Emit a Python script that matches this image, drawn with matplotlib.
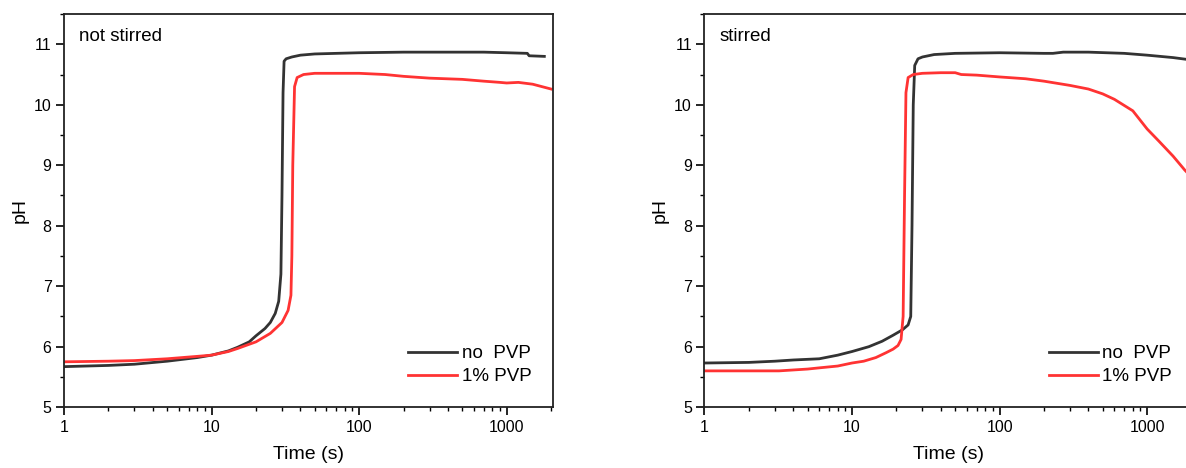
import matplotlib
matplotlib.use("Agg")
import matplotlib.pyplot as plt
from matplotlib.ticker import LogLocator, NullFormatter, MultipleLocator

plt.rcParams['font.family'] = ['Liberation Sans', 'DejaVu Sans']

# not stirred
t_ns_nopvp = [1, 2, 3, 5, 8, 10, 13, 15, 18, 20, 23, 25, 27, 28.5, 29.5, 30, 30.5, 31, 32,
              35, 40, 50, 70, 100, 200, 400, 700, 1000, 1380, 1420, 1800]
ph_ns_nopvp = [5.67, 5.69, 5.71, 5.76, 5.82, 5.86, 5.93, 5.99, 6.08, 6.18, 6.30, 6.40, 6.55,
               6.75, 7.2, 8.5, 10.2, 10.72, 10.76, 10.79, 10.82, 10.84, 10.85, 10.86, 10.87,
               10.87, 10.87, 10.86, 10.85, 10.81, 10.80]
t_ns_pvp = [1, 2, 3, 5, 8, 10, 13, 15, 18, 20, 25, 30, 33, 34.5, 35, 35.5, 36.5, 38, 42, 50,
            70, 100, 150, 200, 300, 500, 700, 900, 1000, 1200, 1500, 2000]
ph_ns_pvp = [5.75, 5.76, 5.77, 5.80, 5.84, 5.86, 5.92, 5.97, 6.04, 6.08, 6.22, 6.40, 6.60,
             6.85, 7.5, 9.0, 10.3, 10.45, 10.5, 10.52, 10.52, 10.52, 10.5, 10.47, 10.44,
             10.42, 10.39, 10.37, 10.36, 10.37, 10.34, 10.26]

# stirred
t_st_nopvp = [1, 2, 3, 4, 6, 8, 10, 13, 16, 19, 22, 24, 25, 25.5, 26, 26.6, 28, 30, 36, 50,
              100, 200, 230, 270, 400, 700, 1000, 1500, 2000]
ph_st_nopvp = [5.73, 5.74, 5.76, 5.78, 5.80, 5.86, 5.92, 6.00, 6.09, 6.19, 6.28, 6.36, 6.5,
               8.0, 10.0, 10.65, 10.76, 10.79, 10.83, 10.85, 10.86, 10.85, 10.85, 10.87,
               10.87, 10.85, 10.82, 10.78, 10.74]
t_st_pvp = [1, 2, 3.2, 5, 6, 8, 10, 12, 14.5, 17, 19, 20.5, 21.5, 22.2, 22.7, 23.2, 24, 26,
            30, 40, 50, 55, 70, 100, 150, 200, 300, 400, 500, 600, 800, 1000, 1200, 1500,
            1800, 2100]
ph_st_pvp = [5.60, 5.60, 5.60, 5.63, 5.65, 5.68, 5.73, 5.76, 5.82, 5.90, 5.96, 6.02, 6.12,
             6.5, 8.5, 10.2, 10.45, 10.5, 10.52, 10.53, 10.53, 10.50, 10.49, 10.46, 10.43,
             10.39, 10.32, 10.26, 10.18, 10.09, 9.90, 9.60, 9.40, 9.15, 8.92, 8.75]

labels = ["no  PVP", "1% PVP"]
panel_titles = ["not stirred", "stirred"]
black = "#333333"
red = "#ff3333"

fig = plt.figure(figsize=(11.86, 4.68), dpi=100)
ax1 = fig.add_axes([0.054, 0.130, 0.412, 0.840])
ax2 = fig.add_axes([0.594, 0.130, 0.412, 0.840])

panels = [
    (ax1, t_ns_nopvp, ph_ns_nopvp, t_ns_pvp, ph_ns_pvp, panel_titles[0]),
    (ax2, t_st_nopvp, ph_st_nopvp, t_st_pvp, ph_st_pvp, panel_titles[1]),
]

for ax, ta, pa, tb, pb, title in panels:
    ax.plot(ta, pa, color=black, lw=2, label=labels[0])
    ax.plot(tb, pb, color=red, lw=2, label=labels[1])
    ax.set_xscale('log')
    ax.set_xlim(1, 2050)
    ax.set_ylim(5, 11.5)
    ax.set_xticks([1, 10, 100, 1000])
    ax.set_xticklabels(["1", "10", "100", "1000"])
    ax.xaxis.set_minor_locator(LogLocator(base=10, subs=range(2, 10)))
    ax.xaxis.set_minor_formatter(NullFormatter())
    ax.set_yticks([5, 6, 7, 8, 9, 10, 11])
    ax.yaxis.set_minor_locator(MultipleLocator(0.5))
    ax.tick_params(which='major', direction='out', length=6, width=1.2, labelsize=11.5,
                   top=False, right=False, pad=3)
    ax.tick_params(which='minor', direction='out', length=3, width=1, top=False, right=False)
    for s in ax.spines.values():
        s.set_linewidth(1.3)
        s.set_color("#222222")
    ax.set_xlabel("Time (s)", fontsize=14, labelpad=8)
    ax.set_ylabel("pH", fontsize=14, labelpad=4)
    ax.text(0.03, 0.965, title, transform=ax.transAxes, fontsize=13.5, va='top', ha='left')
    ax.legend(loc='lower right', bbox_to_anchor=(0.957, 0.056), frameon=False, fontsize=13.5,
              handlelength=2.6, handletextpad=0.25, labelspacing=0.3, borderaxespad=0,
              borderpad=0)

fig.savefig("out.png", dpi=100)
